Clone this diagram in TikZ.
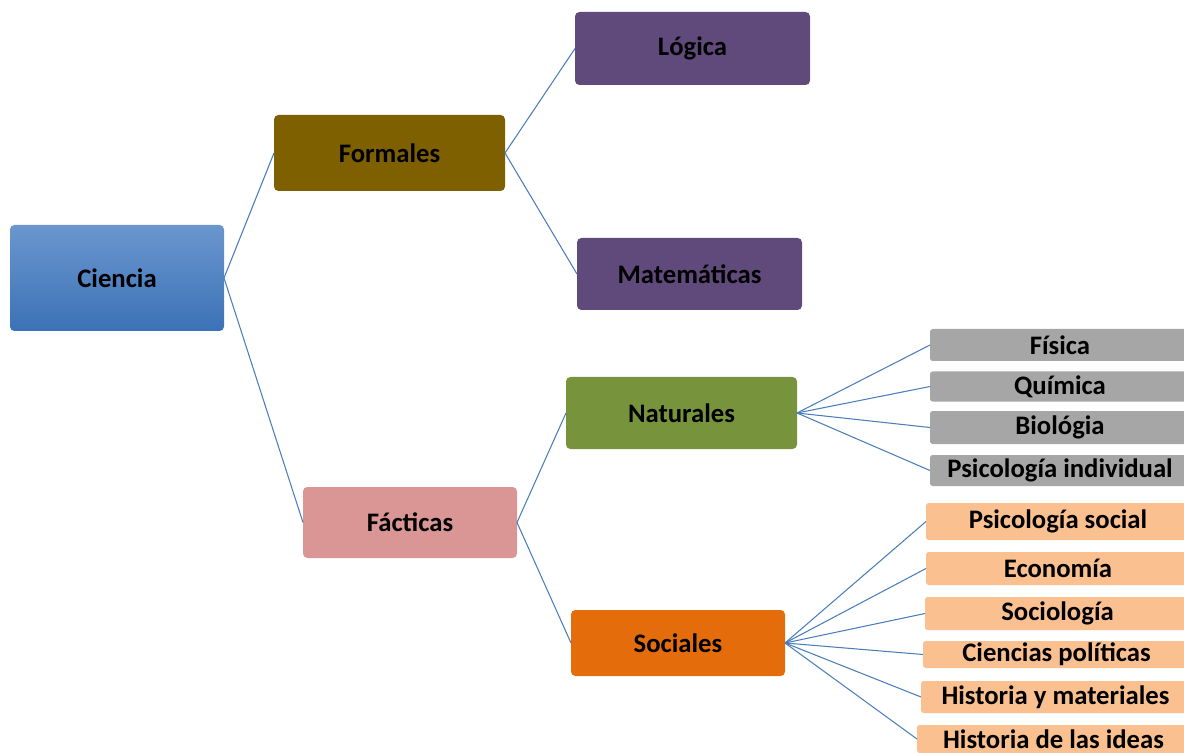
\documentclass[tikz,border=0pt]{standalone}
\usepackage{fontspec}
\setmainfont{Carlito}
\usetikzlibrary{positioning}
\definecolor{cienciaA}{HTML}{6B96CE}
\definecolor{cienciaB}{HTML}{3B72B7}
\definecolor{formal}{HTML}{7F6000}
\definecolor{morado}{HTML}{604A7B}
\definecolor{factica}{HTML}{D99694}
\definecolor{natural}{HTML}{77933C}
\definecolor{social}{HTML}{E46C0A}
\definecolor{gris}{HTML}{A6A6A6}
\definecolor{durazno}{HTML}{FAC090}
\definecolor{linea}{HTML}{4A7EBB}
\newcommand{\upx}{0.02cm}
\begin{document}
\begin{tikzpicture}[x=0.02cm,y=-0.02cm,
every node/.style={rectangle,rounded corners=2.5pt,inner sep=0pt,outer sep=0pt,
font=\bfseries\fontsize{15.2}{17}\selectfont},
leaf/.style={rounded corners=1.5pt}]
\useasboundingbox (0,0) rectangle (1184,753);
\clip (0,0) rectangle (1184,753);
\node[top color=cienciaA,bottom color=cienciaB,minimum width=214*\upx,minimum height=106*\upx] (C) at (117,278) {Ciencia};
\node[fill=formal,minimum width=231*\upx,minimum height=76*\upx] (F) at (389.5,153) {Formales};
\node[fill=morado,minimum width=235*\upx,minimum height=73*\upx] (L) at (692.5,48.5) {Lógica};
\node[fill=morado,minimum width=225*\upx,minimum height=72*\upx] (M) at (689.5,274) {Matemáticas};
\node[fill=factica,minimum width=214*\upx,minimum height=71*\upx] (Fa) at (410,522.5) {Fácticas};
\node[fill=natural,minimum width=231*\upx,minimum height=72*\upx] (N) at (681.5,413) {Naturales};
\node[fill=social,minimum width=214*\upx,minimum height=66*\upx] (S) at (678,643) {Sociales};
\node[leaf,fill=gris,minimum width=260*\upx,minimum height=32*\upx] (N1) at (1060,345) {Física};
\node[leaf,fill=gris,minimum width=260*\upx,minimum height=30*\upx] (N2) at (1060,386.5) {Química};
\node[leaf,fill=gris,minimum width=260*\upx,minimum height=33*\upx] (N3) at (1060,427.5) {Biológia};
\node[leaf,fill=gris,minimum width=260*\upx,minimum height=31*\upx] (N4) at (1060,470.5) {Psicología individual};
\node[leaf,fill=durazno,minimum width=264*\upx,minimum height=37*\upx] (S1) at (1058,521.5) {Psicología social};
\node[leaf,fill=durazno,minimum width=264*\upx,minimum height=33*\upx] (S2) at (1058,568.5) {Economía};
\node[leaf,fill=durazno,minimum width=265*\upx,minimum height=33*\upx] (S3) at (1057.5,613.5) {Sociología};
\node[leaf,fill=durazno,minimum width=267*\upx,minimum height=27*\upx] (S4) at (1056.5,654.5) {Ciencias políticas};
\node[leaf,fill=durazno,minimum width=269*\upx,minimum height=32*\upx] (S5) at (1055.5,697) {Historia y materiales};
\node[leaf,fill=durazno,minimum width=273*\upx,minimum height=28*\upx] (S6) at (1053.5,739) {Historia de las ideas};
\draw[linea,line width=0.6pt] (F.west)--(C.east)--(Fa.west);
\draw[linea,line width=0.6pt] (L.west)--(F.east)--(M.west);
\draw[linea,line width=0.6pt] (N.west)--(Fa.east)--(S.west);
\foreach \n in {N1,N2,N3,N4} \draw[linea,line width=0.6pt] (N.east)--(\n.west);
\foreach \n in {S1,S2,S3,S4,S5,S6} \draw[linea,line width=0.6pt] (S.east)--(\n.west);
\end{tikzpicture}
\end{document}
